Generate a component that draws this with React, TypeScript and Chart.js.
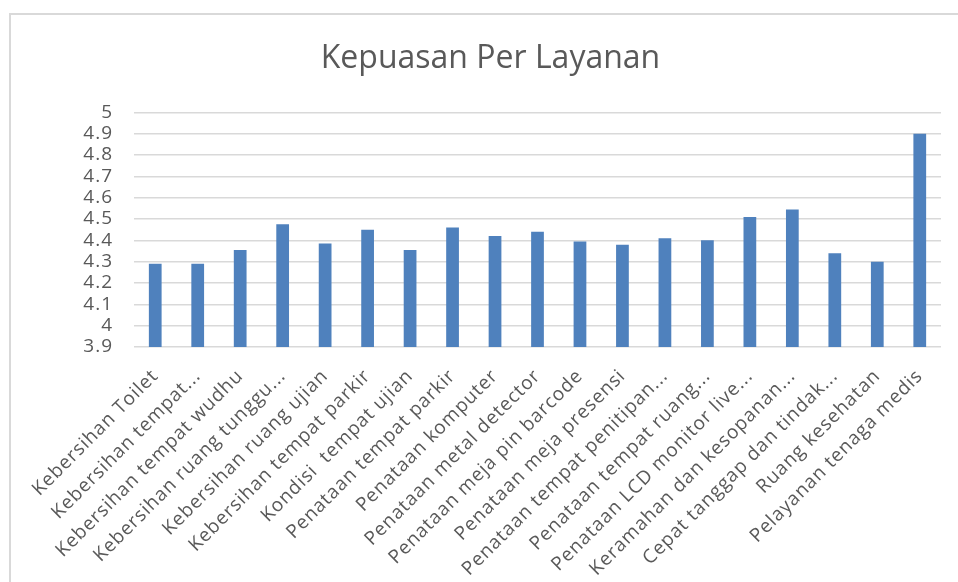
import React, { useEffect, useRef } from "react";
import { Chart, registerables } from "chart.js";

Chart.register(...registerables);

const categories: string[] = [
  "Kebersihan Toilet",
  "Kebersihan tempat...",
  "Kebersihan tempat wudhu",
  "Kebersihan ruang tunggu...",
  "Kebersihan ruang ujian",
  "Kebersihan tempat parkir",
  "Kondisi  tempat ujian",
  "Penataan tempat parkir",
  "Penataan komputer",
  "Penataan metal detector",
  "Penataan meja pin barcode",
  "Penataan meja presensi",
  "Penataan tempat penitipan...",
  "Penataan tempat ruang...",
  "Penataan LCD monitor live...",
  "Keramahan dan kesopanan...",
  "Cepat tanggap dan tindak...",
  "Ruang kesehatan",
  "Pelayanan tenaga medis",
];

const values: number[] = [
  4.29, 4.29, 4.355, 4.475, 4.385, 4.45, 4.355, 4.46, 4.42, 4.44, 4.395, 4.38,
  4.41, 4.4, 4.51, 4.545, 4.34, 4.3, 4.9,
];

const yMin = 3.9;
const yMax = 5;
const yStep = 0.1;
const title = "Kepuasan Per Layanan";

const borderPlugin = {
  id: "frameBorder",
  beforeDraw(chart: any) {
    const ctx = chart.ctx;
    ctx.save();
    ctx.strokeStyle = "#d9d9d9";
    ctx.lineWidth = 2;
    ctx.beginPath();
    ctx.moveTo(10, chart.height);
    ctx.lineTo(10, 14);
    ctx.lineTo(chart.width, 14);
    ctx.stroke();
    ctx.restore();
  },
};

const spacing: Record<string, string> = { x: "0.9px", y: "1px" };

const spacingPlugin = {
  id: "labelSpacing",
  afterUpdate(chart: any) {
    Object.keys(spacing).forEach((id) => {
      const s = chart.scales[id];
      if (!s || s.__spaced) return;
      const orig = s.drawLabels.bind(s);
      s.drawLabels = (area: any) => {
        const ctx = chart.ctx;
        ctx.save();
        ctx.letterSpacing = spacing[id];
        orig(area);
        ctx.restore();
      };
      s.__spaced = true;
    });
  },
};

export default function App() {
  const ref = useRef<HTMLCanvasElement | null>(null);

  useEffect(() => {
    if (!ref.current) return;
    const chart = new Chart(ref.current, {
      type: "bar",
      data: {
        labels: categories,
        datasets: [
          {
            data: values,
            backgroundColor: "#4F81BD",
            barPercentage: 0.3,
            categoryPercentage: 1,
          },
        ],
      },
      plugins: [borderPlugin, spacingPlugin],
      options: {
        animation: false,
        responsive: false,
        maintainAspectRatio: false,
        layout: { padding: { left: 40, right: 17, top: 0, bottom: 0 } },
        plugins: {
          legend: { display: false },
          tooltip: { enabled: false },
          title: {
            display: true,
            text: title,
            color: "#595959",
            font: { family: "Open Sans", size: 32, weight: "normal" },
            padding: { top: 40, bottom: 34 },
          },
        },
        scales: {
          y: {
            min: yMin,
            max: yMax,
            ticks: {
              stepSize: yStep,
              autoSkip: false,
              color: "#595959",
              padding: 21,
              font: { family: "Open Sans", size: 19 },
              callback: (v: any) => String(Math.round(Number(v) * 10) / 10),
            },
            grid: { color: "#d9d9d9", lineWidth: 1.5, drawTicks: false },
            border: { display: false },
            afterFit(scale: any) {
              scale.width = 94;
            },
          },
          x: {
            ticks: {
              color: "#595959",
              autoSkip: false,
              maxRotation: 45,
              minRotation: 45,
              padding: 18,
              font: { family: "Open Sans", size: 19 },
            },
            grid: { display: false, drawTicks: false },
            border: { display: false },
            afterFit(scale: any) {
              scale.height = 235;
            },
          },
        },
      },
    });
    return () => chart.destroy();
  }, []);

  return (
    <div style={{ position: "fixed", left: 0, top: 0, width: 958, height: 582, background: "#fff" }}>
      <canvas ref={ref} width={958} height={582} style={{ width: 958, height: 582 }} />
    </div>
  );
}
